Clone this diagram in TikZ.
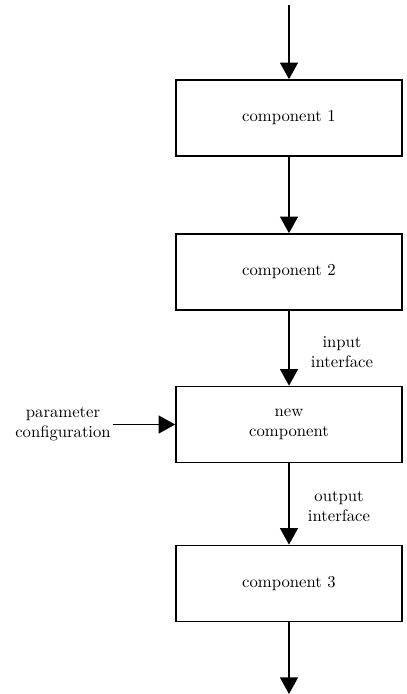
\documentclass[tikz,border=0pt]{standalone}
\usepackage{tikz}
\usetikzlibrary{arrows.meta,%
                positioning}

\begin{document}
\begin{tikzpicture}[x=0.6pt,y=-0.6pt,
  comp/.style={draw,line width=1pt,minimum width=135.6pt,minimum height=45.6pt,align=center},
  flow/.style={line width=1pt,-{Triangle[width=10.8pt,length=10pt]}},
  lbl/.style={align=center,inner sep=1pt}]
\useasboundingbox (0,0) rectangle (407,694);
\node[comp] (C1) at (289,118) {component 1};
\node[comp] (C2) at (289,272) {component 2};
\node[comp] (N) at (289,424.5) {new\\component};
\node[comp] (C3) at (289,583.5) {component 3};
\coordinate (in) at (289,5);
\coordinate (out) at (289,694);
\node[lbl] (P) at (63,424.5) {parameter\\configuration};
\node[lbl] (I) at (342,352) {input\\interface};
\node[lbl] (O) at (339,506) {output\\interface};
\draw[flow] (in) -- (C1);
\draw[flow] (C1) -- (C2);
\draw[flow] (C2) -- (N);
\draw[flow] (N) -- (C3);
\draw[flow] (C3) -- (out);
\draw[flow] (P.east) -- (N.west);
\end{tikzpicture}
\end{document}
